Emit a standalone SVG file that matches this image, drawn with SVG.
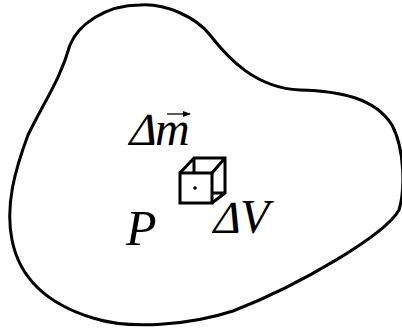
<svg xmlns="http://www.w3.org/2000/svg" width="402" height="329" viewBox="0 0 402 329">
<style>
.outline{fill:none;stroke:#000;stroke-width:3;stroke-linejoin:round}
.cube{fill:none;stroke:#000;stroke-width:3;stroke-linejoin:miter}
</style>
<defs>
<marker id="vec" viewBox="0 0 8 6" refX="7" refY="3" markerWidth="8" markerHeight="6" markerUnits="userSpaceOnUse" orient="auto">
<path d="M0,0 L8,3 L0,6 Z" fill="#000"/>
</marker>
</defs>
<rect width="402" height="329" fill="#fff"/>
<g id="body">
<path class="outline" d="M140,5 C165,3 196,17 210,35 C228,58 255,88 300,90 C340,91 375,98 392,125 C405,150 405,190 399,210 C385,235 300,285 233,311 C190,325 130,330 93,318 C50,305 20,280 12,240 C5,205 15,170 28,135 C45,100 60,80 70,45 C78,25 105,5 140,5 Z"/>
</g>
<g id="element">
<rect class="cube" x="180" y="173" width="32" height="30"/>
<path class="cube" d="M180,173 L194,158 L225,158 L225,193 L212,203 M212,173 L225,158 M194,158 L194,173 M212,193 L225,193"/>
<circle cx="195" cy="188" r="1.8" fill="#000"/>
</g>
<g id="label-dm" font-family="Liberation Serif, serif" fill="#000">
<text font-size="46" transform="translate(126,145) skewX(-16)">Δ</text>
<text font-size="48" font-style="italic" x="155" y="145">m</text>
<line x1="167" y1="114" x2="190" y2="114" stroke="#000" stroke-width="1.3" marker-end="url(#vec)"/>
</g>
<g id="label-P" font-family="Liberation Serif, serif" fill="#000">
<text font-size="50" font-style="italic" x="126" y="245">P</text>
</g>
<g id="label-dV" font-family="Liberation Serif, serif" fill="#000">
<text font-size="46" transform="translate(210,233) skewX(-16)">Δ</text>
<text font-size="48" font-style="italic" x="240" y="233">V</text>
</g>
</svg>
